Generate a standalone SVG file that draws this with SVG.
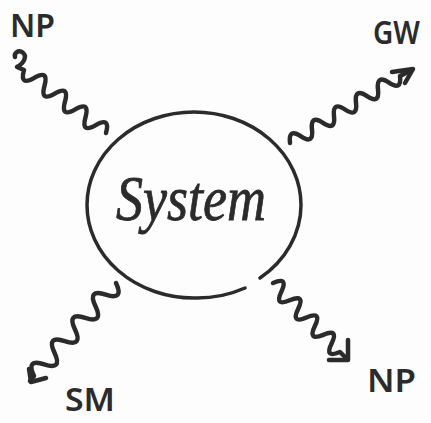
<svg xmlns="http://www.w3.org/2000/svg" width="431" height="423" viewBox="0 0 431 423">
<style>
.ink{fill:none;stroke:#2b2b2b;stroke-linecap:round;stroke-linejoin:round}
.wave{stroke-width:4.5}
.lbl{font-family:"Noto Sans","Liberation Sans",sans-serif;font-size:33px;fill:#2b2b2b;font-weight:600}
.sys{font-family:"Liberation Serif",serif;font-style:italic;font-size:64px;fill:#2b2b2b;stroke:#2b2b2b;stroke-width:0.8}
</style>
<rect width="431" height="423" fill="#fdfdfd"/>
<g id="system">
<path class="ink" stroke-width="3.5" d="M 260 278 A 107 93 0 0 0 301 205 A 107 93 0 0 0 194 112 A 107 93 0 0 0 87 205 A 107 93 0 0 0 194 298 A 107 93 0 0 0 245 288"/>
<text class="sys" x="191" y="220" text-anchor="middle" textLength="150" lengthAdjust="spacingAndGlyphs">System</text>
</g>
<g id="np-top"><text class="lbl" x="10" y="37" textLength="45" lengthAdjust="spacingAndGlyphs">NP</text></g>
<g id="gw"><text class="lbl" x="373" y="44" textLength="47" lengthAdjust="spacingAndGlyphs">GW</text></g>
<g id="np-bottom"><text class="lbl" x="367" y="392" textLength="49" lengthAdjust="spacingAndGlyphs">NP</text></g>
<g id="sm"><text class="lbl" x="65" y="411" font-size="31" textLength="50" lengthAdjust="spacingAndGlyphs">SM</text></g>
<g id="connectors">
<path class="ink wave" d="M 106 133 Q 110.6 116.4 95.75 125.1 T 85.5 117.25 T 75.25 109.4 T 65 101.5 T 54.75 93.6 T 44.5 85.75 T 34.25 77.9 T 24 70 L 17 67 C 24 63 28 56 22 52 C 18 50 14 53 15 57"/>
<path class="ink wave" d="M 290 143 Q 288.2 127.7 301 136.3 T 312 129.6 T 323 122.9 T 334 116.2 T 345 109.5 T 356 102.8 T 367 96.1 T 378 89.4 T 389 82.7 T 400 76 L 412 70"/>
<path class="ink wave" d="M 392 72 L 413 69 L 405 83"/>
<path class="ink wave" d="M 116 283 Q 124.4 300.7 105.75 294.6 T 95.5 306.25 T 85.25 317.9 T 75 329.5 T 64.75 341.1 T 54.5 352.75 T 44.25 364.4 T 34 376 L 30 381"/>
<path class="ink wave" d="M 29 369 L 31 382 L 46 378"/>
<path class="ink wave" d="M 273 283 Q 288.7 276.2 281.4 291.6 T 289.8 300.3 T 298.1 308.9 T 306.5 317.5 T 314.9 326.1 T 323.3 334.8 T 331.6 343.4 T 340 352 L 347 359"/>
<path class="ink wave" d="M 348 340 L 348 360 L 329 360"/>
</g>
</svg>
